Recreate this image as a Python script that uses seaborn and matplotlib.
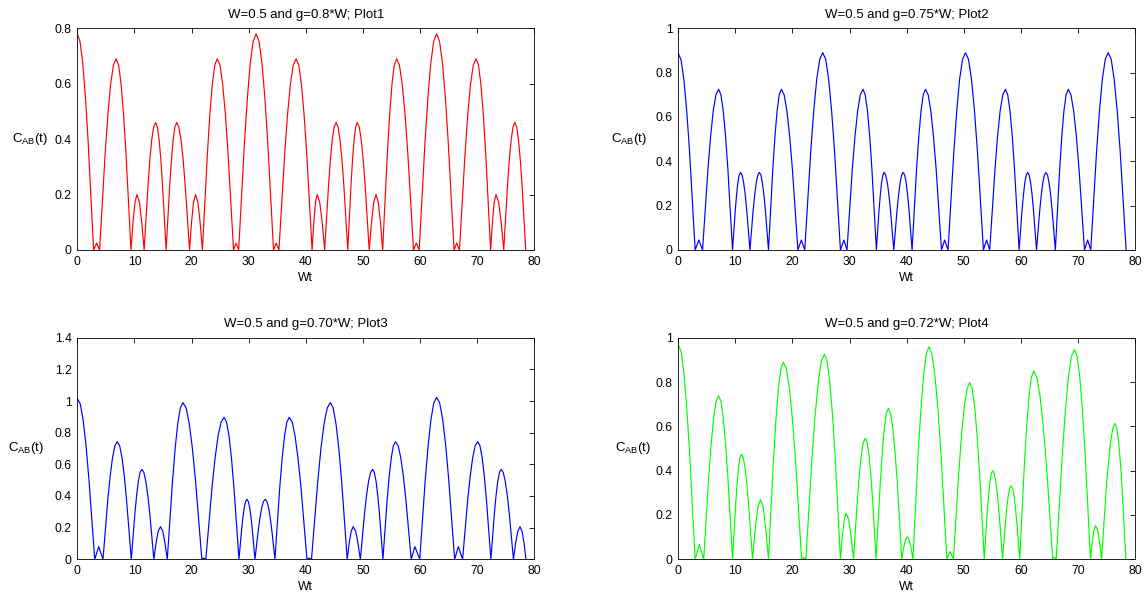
import matplotlib
matplotlib.use('Agg')
import matplotlib.pyplot as plt
import seaborn as sns
from matplotlib.ticker import FuncFormatter

# ---------------- data ----------------
x_ticks = [0, 10, 20, 30, 40, 50, 60, 70, 80]
y_ticks_1 = [0, 0.2, 0.4, 0.6, 0.8]
y_ticks_2 = [0, 0.2, 0.4, 0.6, 0.8, 1.0]
y_ticks_3 = [0, 0.2, 0.4, 0.6, 0.8, 1.0, 1.2, 1.4]
y_ticks_4 = [0, 0.2, 0.4, 0.6, 0.8, 1.0]

titles = ["W=0.5 and g=0.8*W; Plot1", "W=0.5 and g=0.75*W; Plot2",
          "W=0.5 and g=0.70*W; Plot3", "W=0.5 and g=0.72*W; Plot4"]

# Plot1 (red): Wt values and C_AB(t) values
t1 = [0, 0.475, 0.95, 1.425, 1.9, 2.85,
      3.4, 3.9,
      4.87, 5.35, 5.83, 6.32, 6.8, 7.23, 7.67, 8.1, 8.53, 9.4,
      9.75, 10.1, 10.45, 10.87, 11.28, 11.7,
      12.37, 12.7, 13.03, 13.37, 13.7, 14.01, 14.32, 14.63, 14.93, 15.55,
      16.17, 16.48, 16.78, 17.09, 17.4, 17.78, 18.15, 18.53, 18.9, 19.65,
      20.0, 20.35, 20.7, 21.1, 21.5, 21.9,
      22.77, 23.2, 23.63, 24.07, 24.5, 24.98, 25.45, 25.93, 26.4, 27.35,
      27.8, 28.25,
      29.27, 29.78, 30.28, 30.79, 31.3, 31.81, 32.32, 32.83, 33.33, 34.35,
      34.8, 35.3,
      36.3, 36.8, 37.3, 37.8, 38.3, 38.77, 39.23, 39.7, 40.17, 41.1,
      41.4, 41.7, 42.0, 42.43, 42.87, 43.3,
      43.97, 44.3, 44.63, 44.97, 45.3, 45.64, 45.98, 46.33, 46.67, 47.35,
      47.9, 48.18, 48.45, 48.73, 49.0, 49.35, 49.7, 50.05, 50.4, 51.1,
      51.5, 51.9, 52.3, 52.68, 53.07, 53.45,
      54.27, 54.68, 55.08, 55.49, 55.9, 56.39, 56.88, 57.38, 57.87, 58.85,
      59.35, 59.85,
      60.87, 61.38, 61.88, 62.39, 62.9, 63.41, 63.92, 64.43, 64.93, 65.95,
      66.4, 66.9,
      67.87, 68.35, 68.83, 69.32, 69.8, 70.23, 70.65, 71.08, 71.5, 72.35,
      72.67, 72.98, 73.3, 73.75, 74.2, 74.65,
      75.3, 75.63, 75.95, 76.28, 76.6, 76.92, 77.23, 77.55, 77.87, 78.5]
c1 = [0.78, 0.753, 0.675, 0.551, 0.39, 0,
      0.025, 0,
      .345, .488, .598, .667, .69, .667, .598, .488, .345, 0,
      .1, .173, .2, .173, .1, 0,
      .23, .325, .398, .444, .46, .444, .398, .325, .23, 0,
      .23, .325, .398, .444, .46, .444, .398, .325, .23, 0,
      .1, .173, .2, .173, .1, 0,
      .345, .488, .598, .667, .69, .667, .598, .488, .345, 0,
      .025, 0,
      .39, .551, .675, .753, .78, .753, .675, .551, .39, 0,
      .025, 0,
      .345, .488, .598, .667, .69, .667, .598, .488, .345, 0,
      .1, .173, .2, .173, .1, 0,
      .23, .325, .398, .444, .46, .444, .398, .325, .23, 0,
      .23, .325, .398, .444, .46, .444, .398, .325, .23, 0,
      .1, .173, .2, .173, .1, 0,
      .345, .488, .598, .667, .69, .667, .598, .488, .345, 0,
      .025, 0,
      .39, .551, .675, .753, .78, .753, .675, .551, .39, 0,
      .025, 0,
      .345, .488, .598, .667, .69, .667, .598, .488, .345, 0,
      .1, .173, .2, .173, .1, 0,
      .23, .325, .398, .444, .46, .444, .398, .325, .23, 0]

# Plot2 (blue)
t2 = [0, 0.49, 0.98, 1.475, 1.97, 2.95,
      3.6, 4.25,
      5.19, 5.66, 6.12, 6.59, 7.06, 7.47, 7.87, 8.28, 8.69, 9.5,
      9.97, 10.2, 10.43, 10.67, 10.9, 11.18, 11.45, 11.73, 12.0, 12.55,
      13.1, 13.38, 13.65, 13.93, 14.2, 14.47, 14.73, 15.0, 15.27, 15.8,
      16.55, 16.93, 17.31, 17.68, 18.06, 18.54, 19.02, 19.51, 19.99, 20.95,
      21.55, 22.15,
      23.2, 23.73, 24.25, 24.78, 25.3, 25.82, 26.33, 26.85, 27.37, 28.4,
      29.0, 29.55,
      30.48, 30.95, 31.42, 31.88, 32.35, 32.74, 33.13, 33.53, 33.92, 34.7,
      35.15, 35.38, 35.6, 35.83, 36.05, 36.33, 36.62, 36.9, 37.18, 37.75,
      38.3, 38.58, 38.85, 39.13, 39.4, 39.66, 39.92, 40.18, 40.43, 40.95,
      41.73, 42.13, 42.52, 42.91, 43.3, 43.77, 44.23, 44.7, 45.17, 46.1,
      46.65, 47.25,
      48.27, 48.78, 49.28, 49.79, 50.3, 50.83, 51.35, 51.88, 52.4, 53.45,
      54.0, 54.55,
      55.47, 55.93, 56.38, 56.84, 57.3, 57.7, 58.1, 58.5, 58.9, 59.7,
      60.2, 60.45, 60.7, 60.95, 61.2, 61.46, 61.72, 61.98, 62.23, 62.75,
      63.3, 63.58, 63.85, 64.13, 64.4, 64.68, 64.95, 65.23, 65.5, 66.05,
      66.8, 67.18, 67.55, 67.93, 68.3, 68.78, 69.25, 69.73, 70.2, 71.15,
      71.7, 72.25,
      73.27, 73.78, 74.28, 74.79, 75.3, 75.83, 76.35, 76.88, 77.4, 78.45]
c2 = [0.887, 0.857, 0.768, 0.627, 0.444, 0,
      0.045, 0,
      .363, .513, .628, .70, .725, .70, .628, .513, .363, 0,
      .175, .247, .303, .338, .35, .338, .303, .247, .175, 0,
      .175, .247, .303, .338, .35, .338, .303, .247, .175, 0,
      .363, .513, .628, .70, .725, .70, .628, .513, .363, 0,
      .045, 0,
      .445, .629, .771, .86, .89, .86, .771, .629, .445, 0,
      .045, 0,
      .363, .513, .628, .70, .725, .70, .628, .513, .363, 0,
      .175, .247, .303, .338, .35, .338, .303, .247, .175, 0,
      .175, .247, .303, .338, .35, .338, .303, .247, .175, 0,
      .363, .513, .628, .70, .725, .70, .628, .513, .363, 0,
      .045, 0,
      .445, .629, .771, .86, .89, .86, .771, .629, .445, 0,
      .045, 0,
      .363, .513, .628, .70, .725, .70, .628, .513, .363, 0,
      .175, .247, .303, .338, .35, .338, .303, .247, .175, 0,
      .175, .247, .303, .338, .35, .338, .303, .247, .175, 0,
      .363, .513, .628, .70, .725, .70, .628, .513, .363, 0,
      .045, 0,
      .445, .629, .771, .86, .89, .86, .771, .629, .445, 0]

# Plot3 (blue)
t3 = [0, 0.51, 1.02, 1.525, 2.03, 3.05,
      3.75, 4.5,
      5.33, 5.75, 6.17, 6.58, 7.0, 7.41, 7.82, 8.23, 8.63, 9.45,
      10.07, 10.38, 10.68, 10.99, 11.3, 11.65, 12.0, 12.35, 12.7, 13.4,
      13.79, 14.17, 14.56, 14.96, 15.35, 15.75,
      16.67, 17.13, 17.58, 18.04, 18.5, 19.05, 19.6, 20.15, 20.7, 21.8,
      22.1, 22.5,
      23.57, 24.1, 24.63, 25.17, 25.7, 26.13, 26.57, 27.0, 27.43, 28.3,
      28.77, 29.0, 29.23, 29.47, 29.7, 29.93, 30.17, 30.4, 30.63, 31.1,
      31.7, 32.0, 32.3, 32.6, 32.9, 33.18, 33.47, 33.75, 34.03, 34.6,
      35.43, 35.85, 36.27, 36.68, 37.1, 37.62, 38.13, 38.65, 39.17, 40.2,
      40.6, 41.0,
      42.1, 42.65, 43.2, 43.75, 44.3, 44.79, 45.28, 45.78, 46.27, 47.25,
      47.6, 47.95, 48.3, 48.72, 49.13, 49.55,
      50.27, 50.63, 50.98, 51.34, 51.7, 52.0, 52.3, 52.6, 52.9, 53.5,
      54.23, 54.6, 54.97, 55.33, 55.7, 56.16, 56.62, 57.08, 57.53, 58.45,
      59.1, 59.95,
      60.93, 61.43, 61.92, 62.41, 62.9, 63.43, 63.95, 64.48, 65.0, 66.05,
      66.7, 67.45,
      68.33, 68.78, 69.22, 69.66, 70.1, 70.48, 70.87, 71.25, 71.63, 72.4,
      73.0, 73.3, 73.6, 73.9, 74.2, 74.56, 74.92, 75.28, 75.63, 76.35,
      76.73, 77.12, 77.5, 77.85, 78.2, 78.55]
c3 = [1.017, 0.982, 0.88, 0.719, 0.508, 0,
      0.08, 0,
      .372, .525, .643, .718, .743, .718, .643, .525, .372, 0,
      .284, .402, .492, .549, .568, .549, .492, .402, .284, 0,
      .103, .178, .206, .178, .103, 0,
      .495, .70, .857, .956, .99, .956, .857, .70, .495, 0,
      .008, 0,
      .449, .634, .777, .867, .897, .867, .777, .634, .449, 0,
      .19, .268, .328, .366, .379, .366, .328, .268, .19, 0,
      .19, .268, .328, .366, .379, .366, .328, .268, .19, 0,
      .449, .634, .777, .867, .897, .867, .777, .634, .449, 0,
      .008, 0,
      .495, .70, .857, .956, .99, .956, .857, .70, .495, 0,
      .103, .178, .206, .178, .103, 0,
      .284, .402, .492, .549, .568, .549, .492, .402, .284, 0,
      .372, .525, .643, .718, .743, .718, .643, .525, .372, 0,
      .08, 0,
      .512, .723, .886, .988, 1.023, .988, .886, .723, .512, 0,
      .08, 0,
      .372, .525, .643, .718, .743, .718, .643, .525, .372, 0,
      .284, .402, .492, .549, .568, .549, .492, .402, .284, 0,
      .103, .178, .206, .178, .103, 0]

# Plot4 (green)
t4 = [0, 0.49, 0.98, 1.475, 1.97, 2.95,
      3.7, 4.45,
      5.32, 5.76, 6.19, 6.63, 7.06, 7.47, 7.87, 8.28, 8.69, 9.5,
      10.02, 10.28, 10.54, 10.8, 11.06, 11.38, 11.71, 12.03, 12.35, 13.0,
      13.47, 13.93, 14.4, 14.87, 15.33, 15.8,
      16.67, 17.1, 17.53, 17.97, 18.4, 18.93, 19.47, 20.0, 20.53, 21.6,
      22.0, 22.35,
      23.43, 23.98, 24.52, 25.06, 25.6, 26.07, 26.53, 27.0, 27.47, 28.4,
      28.73, 29.07, 29.4, 29.83, 30.27, 30.7,
      31.38, 31.73, 32.07, 32.41, 32.75, 33.07, 33.38, 33.7, 34.02, 34.65,
      35.37, 35.73, 36.08, 36.44, 36.8, 37.19, 37.58, 37.98, 38.37, 39.15,
      39.47, 39.78, 40.1, 40.43, 40.77, 41.1,
      42.03, 42.5, 42.97, 43.43, 43.9, 44.43, 44.95, 45.48, 46.0, 47.05,
      47.6, 48.2,
      49.15, 49.63, 50.1, 50.58, 51.05, 51.48, 51.9, 52.33, 52.75, 53.6,
      54.09, 54.33, 54.57, 54.82, 55.06, 55.35, 55.64, 55.93, 56.22, 56.8,
      57.3, 57.55, 57.8, 58.05, 58.3, 58.55, 58.8, 59.05, 59.3, 59.8,
      60.62, 61.03, 61.43, 61.84, 62.25, 62.81, 63.37, 63.93, 64.48, 65.6,
      65.9, 66.2,
      67.27, 67.8, 68.33, 68.87, 69.4, 69.87, 70.33, 70.8, 71.27, 72.2,
      72.5, 72.8, 73.1, 73.45, 73.8, 74.15,
      74.93, 75.33, 75.72, 76.11, 76.5, 76.82, 77.13, 77.45, 77.77, 78.4]
c4 = [0.97, 0.937, 0.84, 0.686, 0.485, 0,
      0.068, 0,
      .369, .522, .639, .713, .738, .713, .639, .522, .369, 0,
      .237, .335, .41, .458, .474, .458, .41, .335, .237, 0,
      .135, .234, .27, .234, .135, 0,
      .445, .629, .77, .859, .889, .859, .77, .629, .445, 0,
      .008, 0,
      .463, .654, .801, .894, .925, .894, .801, .654, .463, 0,
      .104, .18, .208, .18, .104, 0,
      .273, .386, .473, .527, .546, .527, .473, .386, .273, 0,
      .341, .481, .59, .658, .681, .658, .59, .481, .341, 0,
      .051, .088, .102, .088, .051, 0,
      .48, .678, .83, .926, .959, .926, .83, .678, .48, 0,
      .035, 0,
      .399, .564, .691, .771, .798, .771, .691, .564, .399, 0,
      .2, .283, .346, .386, .4, .386, .346, .283, .2, 0,
      .166, .235, .288, .321, .332, .321, .288, .235, .166, 0,
      .425, .601, .736, .821, .85, .821, .736, .601, .425, 0,
      .008, 0,
      .474, .67, .82, .915, .947, .915, .82, .67, .474, 0,
      .076, .132, .152, .132, .076, 0,
      .307, .433, .531, .592, .613, .592, .531, .433, .307, 0]

# ---------------- styling ----------------
sns.set_style("white")
plt.rcParams['font.family'] = ['Liberation Sans', 'DejaVu Sans']
plt.rcParams['mathtext.fontset'] = 'custom'
plt.rcParams['mathtext.rm'] = 'Liberation Sans'
plt.rcParams['mathtext.it'] = 'Liberation Sans:italic'

fig = plt.figure(figsize=(11.46, 5.96), dpi=100)
fig.patch.set_facecolor('white')

W, H = 1146.0, 596.0
def rect(l, r, t, b):
    return [l / W, 1 - b / H, (r - l) / W, (b - t) / H]

panels = [
    (rect(77.3, 534.3, 28.3, 250.0), t1, c1, '#ff0000', y_ticks_1, titles[0], -0.103),
    (rect(678.3, 1135.0, 28.3, 250.0), t2, c2, '#0000ff', y_ticks_2, titles[1], -0.108),
    (rect(77.3, 534.3, 337.7, 559.3), t3, c3, '#0000ff', y_ticks_3, titles[2], -0.112),
    (rect(678.3, 1135.0, 337.7, 559.3), t4, c4, '#00ff00', y_ticks_4, titles[3], -0.100),
]

fmt = FuncFormatter(lambda v, p: f'{v:g}')

for r, tx, cy, col, yt, ttl, ylx in panels:
    ax = fig.add_axes(r)
    sns.lineplot(x=tx, y=cy, ax=ax, color=col, linewidth=0.85,
                 sort=False, estimator=None)
    ax.set_xlim(0, 80)
    ax.set_ylim(0, yt[-1])
    ax.set_xticks(x_ticks)
    ax.set_yticks(yt)
    ax.yaxis.set_major_formatter(fmt)
    ax.xaxis.set_major_formatter(fmt)
    ax.tick_params(direction='in', top=True, right=True, length=3.3,
                   width=0.6, labelsize=8.7, pad=4, colors='black')
    for s in ax.spines.values():
        s.set_color('black')
        s.set_linewidth(0.6)
    ax.set_title(ttl, fontsize=9.5, pad=7.5, color='black')
    ax.set_xlabel('Wt', fontsize=8.7, labelpad=3, color='black')
    ax.set_ylabel(r'$\mathregular{C_{AB}(t)}$', rotation=0, fontsize=9.5,
                  ha='center', va='center', color='black')
    ax.yaxis.set_label_coords(ylx, 0.5)
    ax.grid(False)

fig.savefig('out.png', dpi=100, facecolor='white')
